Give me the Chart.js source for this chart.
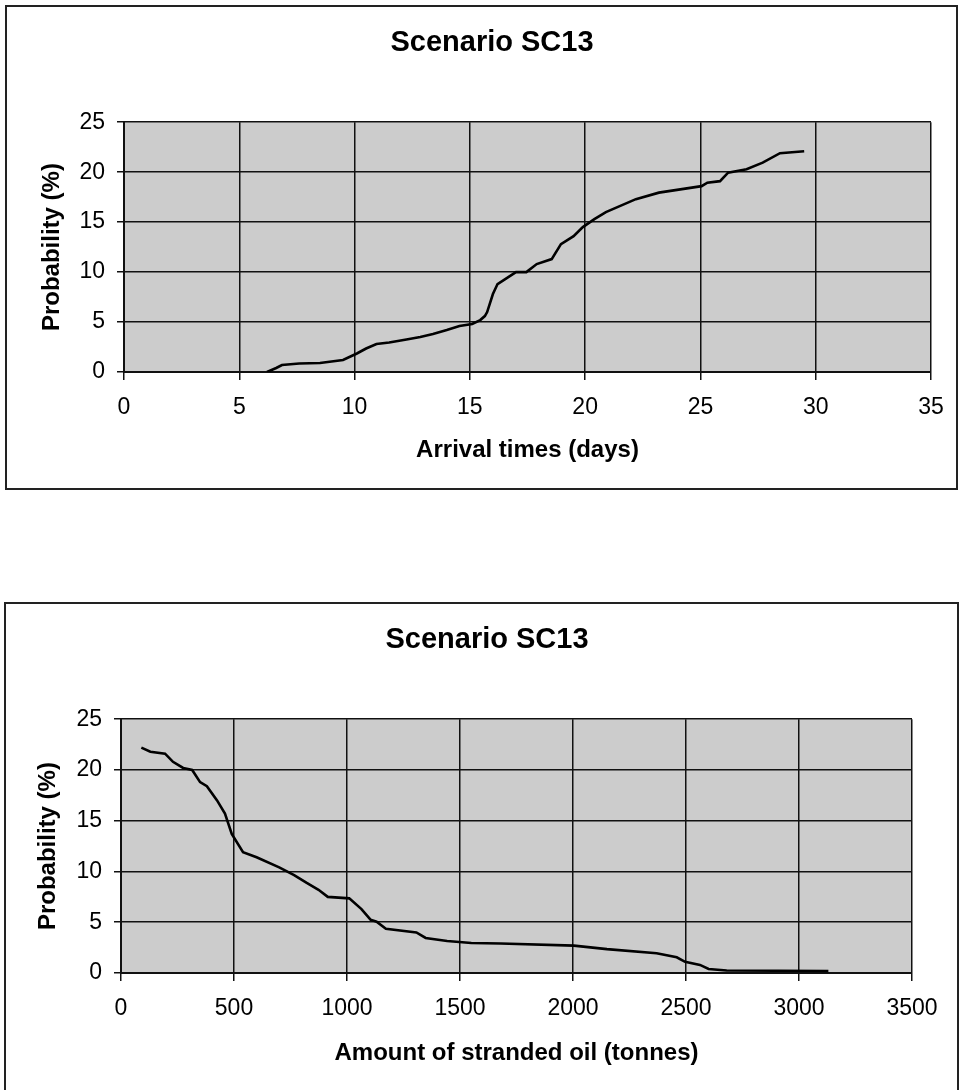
<!DOCTYPE html>
<html><head><meta charset="utf-8">
<script src="https://cdn.jsdelivr.net/npm/chart.js@4.4.1/dist/chart.umd.min.js"></script>
<style>
html,body{margin:0;padding:0;background:#fff;width:960px;height:1090px;overflow:hidden;position:relative;}
.box{position:absolute;border:2px solid #222;box-sizing:border-box;}
canvas{position:absolute;left:0;}
</style></head><body>
<div class="box" style="left:5px;top:5px;width:953px;height:485px"></div>
<div class="box" style="left:4px;top:602px;width:955px;height:500px"></div>
<canvas id="c1" width="960" height="500" style="top:0;width:960px;height:500px"></canvas>
<canvas id="c2" width="960" height="530" style="top:560px;width:960px;height:530px"></canvas>
<script>
// ---- data ----
const chartTitle = "Scenario SC13";
const yTitle = "Probability (%)";
const arrivalTitle = "Arrival times (days)";
const oilTitle = "Amount of stranded oil (tonnes)";

const arrivalDays = [6.2,6.6,6.85,7.6,8.5,9.5,10.1,10.5,10.95,11.5,12.25,12.85,13.4,14.0,14.55,15.1,15.45,15.65,15.75,16.0,16.2,16.6,17.0,17.45,17.9,18.55,18.95,19.5,19.9,20.4,20.9,21.5,22.2,23.2,24.2,25.05,25.3,25.85,26.2,27.0,27.7,28.45,29.5];
const arrivalProb = [0,0.4,0.7,0.85,0.9,1.2,1.85,2.35,2.8,2.95,3.25,3.5,3.8,4.2,4.6,4.8,5.2,5.6,6.0,7.8,8.8,9.4,10.0,10.0,10.8,11.3,12.8,13.6,14.5,15.3,16.0,16.6,17.3,17.95,18.3,18.6,18.95,19.1,19.95,20.3,20.95,21.9,22.1];

const oilTonnes = [90,130,195,230,275,315,350,380,425,460,490,540,600,700,766,820,874,915,1010,1064,1104,1131,1172,1307,1348,1443,1550,1680,2004,2150,2370,2459,2496,2562,2600,2680,3130];
const oilProb = [22.2,21.8,21.6,20.8,20.2,20.0,18.8,18.4,17.0,15.7,13.7,11.9,11.4,10.4,9.65,8.9,8.2,7.5,7.35,6.3,5.25,5.05,4.35,4.0,3.45,3.15,2.95,2.9,2.7,2.35,1.95,1.55,1.1,0.8,0.4,0.25,0.2];

const arrivalTicks = {min:0, max:35, step:5};
const oilTicks = {min:0, max:3500, step:500};
const probTicks = {min:0, max:25, step:5};

// ---- rendering ----
const FONT = "'Liberation Sans', Arial, Helvetica, sans-serif";
const plotBg = {
  id:'plotBg',
  beforeDraw(chart){
    const {ctx, chartArea:a} = chart;
    ctx.save();
    ctx.fillStyle = '#cccccc';
    ctx.fillRect(a.left, a.top, a.right-a.left, a.bottom-a.top);
    ctx.restore();
  }
};
const plain = v => String(v);

function makeChart(id, xs, ys, xt, xTitle, geo){
  const pts = xs.map((x,i)=>({x:x, y:ys[i]}));
  return new Chart(document.getElementById(id), {
    type:'scatter',
    data:{datasets:[{data:pts, showLine:true, borderColor:'#000', borderWidth:2.6, pointRadius:0, tension:0, fill:false}]},
    options:{
      responsive:false, animation:false, devicePixelRatio:1,
      layout:{padding:{left:geo.padL, right:geo.padR, top:0, bottom:0}},
      plugins:{
        legend:{display:false}, tooltip:{enabled:false},
        title:{display:true, text:chartTitle, color:'#000',
          font:{family:FONT, size:29, weight:'bold', lineHeight:1.2},
          padding:{top:geo.titleTop, bottom:geo.titleBottom}}
      },
      scales:{
        x:{type:'linear', min:xt.min, max:xt.max,
          afterFit(s){ s.height = geo.xH; },
          ticks:{stepSize:xt.step, color:'#000', padding:14, maxRotation:0, callback:plain, font:{family:FONT, size:23}},
          grid:{color:'#111', lineWidth:1.5, tickLength:8, drawTicks:true},
          border:{display:true, color:'#111', width:2},
          title:{display:true, text:xTitle, color:'#000', font:{family:FONT, size:24, weight:'bold', lineHeight:1.2}, padding:{top:0, bottom:geo.xTitlePad}}
        },
        y:{min:probTicks.min, max:probTicks.max,
          afterFit(s){ s.width = geo.yW; },
          ticks:{stepSize:probTicks.step, color:'#000', padding:12, callback:plain, font:{family:FONT, size:23}},
          grid:{color:'#111', lineWidth:1.5, tickLength:7, drawTicks:true},
          border:{display:true, color:'#111', width:2},
          title:{display:true, text:yTitle, color:'#000', font:{family:FONT, size:24, weight:'bold', lineHeight:1.2}, padding:{top:geo.yTitlePad, bottom:0}}
        }
      }
    },
    plugins:[plotBg]
  });
}

makeChart('c1', arrivalDays, arrivalProb, arrivalTicks, arrivalTitle,
  {padL:53, padR:29, yW:71, xH:128, titleTop:26, titleBottom:61.4, xTitlePad:35.6, yTitlePad:-15.4});
makeChart('c2', oilTonnes, oilProb, oilTicks, oilTitle,
  {padL:62, padR:48, yW:59, xH:117, titleTop:62.2, titleBottom:62.2, xTitlePad:22.6, yTitlePad:-28.4});
</script>
</body></html>
